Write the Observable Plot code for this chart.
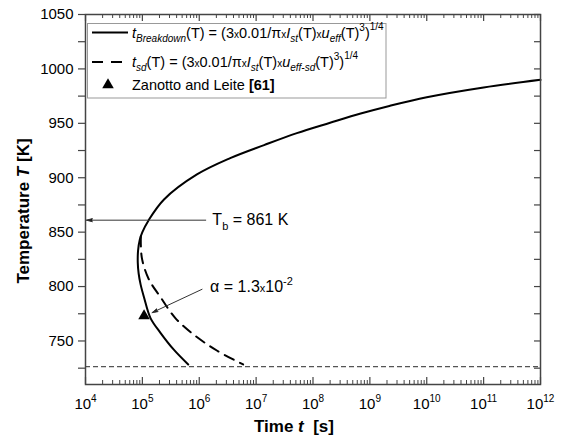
<!DOCTYPE html>
<html><head><meta charset="utf-8">
<script src="https://cdn.jsdelivr.net/npm/d3@7"></script>
<script src="https://cdn.jsdelivr.net/npm/@observablehq/plot@0.6"></script>
<style>
body{margin:0;background:#fff}
svg{font-family:"Liberation Sans",Arial,sans-serif}
</style>
</head><body><div id="chart"></div>
<script>
// ---- data ----
// t_Breakdown(T): solid curve, listed along the curve (bottom -> nose -> top right)
const breakdownT    = [728.4, 742, 757.5, 771, 790, 802, 812, 822, 833, 843, 850, 861, 880, 903, 918, 930, 941, 950.5, 959, 966, 974, 983, 990];
const breakdownTime = [6.4e5, 3.57e5, 2.08e5, 1.39e5, 1.07e5, 9.3e4, 8.6e4, 8.3e4, 8.4e4, 9.0e4, 1.0e5, 1.29e5, 2.4e5, 9.1e5, 3.5e6, 1.38e7, 5.2e7, 2.0e8, 6.9e8, 2.2e9, 1e10, 1e11, 1e12];
// t_sd(T): dashed curve
const sdT    = [846, 838, 825, 807, 790, 771, 756, 741, 728.4];
const sdTime = [9.4e4, 9.4e4, 9.9e4, 1.29e5, 2.1e5, 3.8e5, 7.9e5, 2.07e6, 5.9e6];
// Zanotto and Leite [61]
const zanottoT    = [773];
const zanottoTime = [1.07e5];
// reference temperature (horizontal dashed line)
const glassT = [726.5];
// annotations
const tbValue = 861;
const tbArrowFrom = 1.3e6;
const tbLabelAt = 1.7e6;
const alphaArrowFrom = [1.12e6, 797.5];
const alphaArrowTo   = [1.48e5, 776];
const alphaLabelAt   = [1.55e6, 800];
// ticks
const xTicks = [1e4, 1e5, 1e6, 1e7, 1e8, 1e9, 1e10, 1e11, 1e12];
const xTickExp = ["4", "5", "6", "7", "8", "9", "10", "11", "12"];
const xMinorMult = [2, 3, 4, 5, 6, 7, 8, 9];
const yTicks = [725, 750, 775, 800, 825, 850, 875, 900, 925, 950, 975, 1000, 1025, 1050];
const yLabeled = [750, 800, 850, 900, 950, 1000, 1050];

// ---- layout ----
const W = 563, H = 439, mL = 85, mR = 23, mT = 14, mB = 55;
const innerW = W - mL - mR, innerH = H - mT - mB;
const xMinor = xTicks.slice(0, -1).flatMap(d => xMinorMult.map(m => m * d));

const solid = breakdownT.map((T, i) => ({t: breakdownTime[i], T}));
const dashed = sdT.map((T, i) => ({t: sdTime[i], T}));
const zanotto = zanottoT.map((T, i) => ({t: zanottoTime[i], T}));

const axisColor = "#444";

const chart = Plot.plot({
  width: W, height: H,
  marginLeft: mL, marginRight: mR, marginTop: mT, marginBottom: mB,
  style: {fontFamily: '"Liberation Sans", Arial, sans-serif', fontSize: "15px", color: "#000", background: "#fff", overflow: "visible"},
  x: {type: "log", domain: [1e4, 1e12]},
  y: {domain: [710, 1050]},
  marks: [
    Plot.ruleY(glassT, {stroke: "#555", strokeWidth: 1.2, strokeDasharray: "5,3"}),
    Plot.line(solid, {x: "t", y: "T", stroke: "#000", strokeWidth: 2, curve: "catmull-rom"}),
    Plot.line(dashed, {x: "t", y: "T", stroke: "#000", strokeWidth: 2, strokeDasharray: "10,7", curve: "catmull-rom"}),
    Plot.dot(zanotto, {x: "t", y: "T", symbol: "triangle", r: 4.3, fill: "#000", stroke: "none"}),
    Plot.arrow([{x1: tbArrowFrom, y1: tbValue, x2: 1e4, y2: tbValue}],
      {x1: "x1", y1: "y1", x2: "x2", y2: "y2", stroke: "#333", strokeWidth: 1, fill: "#000", headLength: 9, headAngle: 30, insetEnd: 1}),
    Plot.arrow([{x1: alphaArrowFrom[0], y1: alphaArrowFrom[1], x2: alphaArrowTo[0], y2: alphaArrowTo[1]}],
      {x1: "x1", y1: "y1", x2: "x2", y2: "y2", stroke: "#333", strokeWidth: 1, fill: "#000", headLength: 9, headAngle: 30}),
    Plot.text([{x: tbLabelAt, y: tbValue, s: "TBLABEL"}], {x: "x", y: "y", text: "s", textAnchor: "start", fontSize: 16, fill: "#000"}),
    Plot.text([{x: alphaLabelAt[0], y: alphaLabelAt[1], s: "ALPHALABEL"}], {x: "x", y: "y", text: "s", textAnchor: "start", fontSize: 16, fill: "#000"}),
    Plot.frame({stroke: axisColor, strokeWidth: 1.5}),
    // bottom / top inward ticks
    Plot.tickX(xTicks, {x: d => d, insetTop: innerH - 7, stroke: axisColor, strokeWidth: 1.2}),
    Plot.tickX(xMinor, {x: d => d, insetTop: innerH - 4, stroke: axisColor, strokeWidth: 1}),
    Plot.tickX(xTicks, {x: d => d, insetBottom: innerH - 7, stroke: axisColor, strokeWidth: 1.2}),
    Plot.tickX(xMinor, {x: d => d, insetBottom: innerH - 4, stroke: axisColor, strokeWidth: 1}),
    // right inward ticks
    Plot.tickY(yTicks, {y: d => d, insetLeft: innerW - 6, stroke: axisColor, strokeWidth: 1.2}),
    Plot.axisX(xTicks, {anchor: "bottom", tickSize: 0, tickPadding: 14, label: null, fontSize: 15,
      tickFormat: d => xTickExp[xTicks.indexOf(d)]}),
    Plot.axisY(yTicks, {anchor: "left", tickSize: 7, tickPadding: 5, label: null, fontSize: 15, stroke: axisColor, strokeWidth: 1.2,
      tickFormat: d => yLabeled.includes(d) ? String(d) : ""})
  ]
});
document.getElementById("chart").appendChild(chart);

// ---- rich text helpers ----
const svgns = "http://www.w3.org/2000/svg";
function rich(el, parts) {
  while (el.firstChild) el.removeChild(el.firstChild);
  let shift = 0;
  for (const p of parts) {
    const ts = document.createElementNS(svgns, "tspan");
    ts.textContent = p.t;
    if (p.i) ts.setAttribute("font-style", "italic");
    if (p.b) ts.setAttribute("font-weight", "bold");
    if (p.s) ts.setAttribute("font-size", p.s);
    const target = p.y || 0;
    if (target !== shift) ts.setAttribute("dy", target - shift);
    shift = target;
    el.appendChild(ts);
  }
}
const svg = d3.select(chart.tagName.toLowerCase() === "svg" ? chart : chart.querySelector("svg"));

// x tick labels: 10^n
svg.selectAll('g[aria-label="x-axis tick label"] text').each(function() {
  const e = this.textContent;
  rich(this, [{t: "10"}, {t: e, s: 10, y: -7}]);
});
svg.selectAll("text").each(function() {
  if (this.textContent === "TBLABEL")
    rich(this, [{t: "T"}, {t: "b", s: 11, y: 5}, {t: " = 861 K"}]);
  if (this.textContent === "ALPHALABEL")
    rich(this, [{t: "\u03b1 = 1.3"}, {t: "x", s: 11}, {t: "10"}, {t: "-2", s: 11, y: -7}]);
});

// axis titles
const xt = svg.append("text").attr("x", 254).attr("y", 432).attr("text-anchor", "start").attr("font-size", 17).attr("font-weight", "bold").attr("fill", "#000").node();
rich(xt, [{t: "Time "}, {t: "t", i: 1}, {t: "\u00a0 [s]"}]);
const yt = svg.append("text").attr("transform", "translate(29,211) rotate(-90)").attr("text-anchor", "middle")
  .attr("font-size", 17).attr("font-weight", "bold").attr("fill", "#000").node();
rich(yt, [{t: "Temperature "}, {t: "T", i: 1}, {t: " [K]"}]);

// legend
const lg = svg.append("g").attr("text-anchor", "start");
lg.append("rect").attr("x", 87.5).attr("y", 23.5).attr("width", 298.5).attr("height", 74.5)
  .attr("fill", "#fff").attr("stroke", "#999").attr("stroke-width", 1);
lg.append("line").attr("x1", 92).attr("x2", 128).attr("y1", 32.5).attr("y2", 32.5).attr("stroke", "#000").attr("stroke-width", 2);
lg.append("line").attr("x1", 92).attr("x2", 128).attr("y1", 62).attr("y2", 62).attr("stroke", "#000").attr("stroke-width", 2).attr("stroke-dasharray", "11,8");
lg.append("path").attr("d", d3.symbol(d3.symbolTriangle, 58)()).attr("transform", "translate(108,85)").attr("fill", "#000");
const fs = 14.5, sub = 10, xs = 10;
const r1 = lg.append("text").attr("x", 132).attr("y", 38).attr("text-anchor", "start").attr("font-size", fs).attr("fill", "#000").node();
rich(r1, [{t: "t", i: 1}, {t: "Breakdown", i: 1, s: sub, y: 4}, {t: "(T) = (3"}, {t: "x", s: xs}, {t: "0.01/\u03c0"}, {t: "x", s: xs},
  {t: "I", i: 1}, {t: "st", i: 1, s: sub, y: 4}, {t: "(T)"}, {t: "x", s: xs}, {t: "u", i: 1}, {t: "eff", i: 1, s: sub, y: 4},
  {t: "(T)"}, {t: "3", s: sub, y: -7}, {t: ")"}, {t: "1/4", s: sub, y: -8}]);
const r2 = lg.append("text").attr("x", 132).attr("y", 67).attr("text-anchor", "start").attr("font-size", fs).attr("fill", "#000").node();
rich(r2, [{t: "t", i: 1}, {t: "sd", i: 1, s: sub, y: 4}, {t: "(T) = (3"}, {t: "x", s: xs}, {t: "0.01/\u03c0"}, {t: "x", s: xs},
  {t: "I", i: 1}, {t: "st", i: 1, s: sub, y: 4}, {t: "(T)"}, {t: "x", s: xs}, {t: "u", i: 1}, {t: "eff-sd", i: 1, s: sub, y: 4},
  {t: "(T)"}, {t: "3", s: sub, y: -7}, {t: ")"}, {t: "1/4", s: sub, y: -8}]);
const r3 = lg.append("text").attr("x", 132).attr("y", 90).attr("text-anchor", "start").attr("font-size", fs).attr("fill", "#000").node();
rich(r3, [{t: "Zanotto and Leite "}, {t: "[61]", b: 1}]);
</script>
</body></html>
